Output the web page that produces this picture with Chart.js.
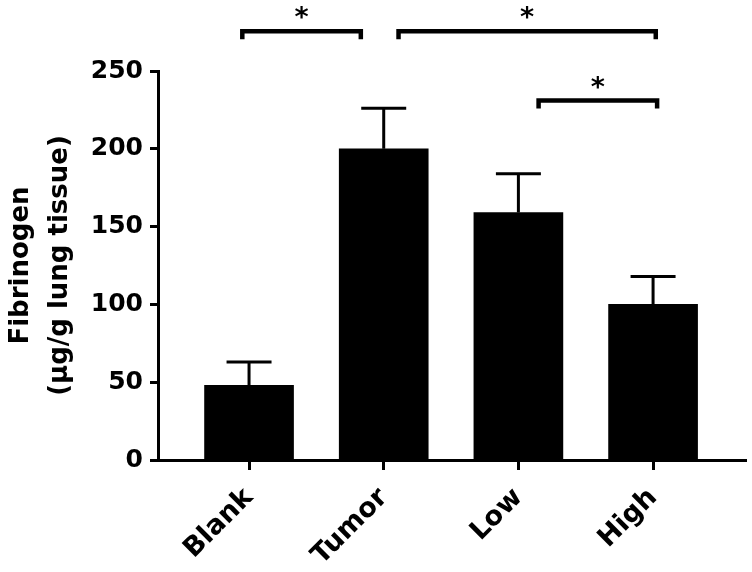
<!DOCTYPE html>
<html>
<head>
<meta charset="utf-8">
<script src="https://cdn.jsdelivr.net/npm/chart.js@4/dist/chart.umd.min.js"></script>
<style>
  html, body { margin: 0; padding: 0; background: #fff; }
</style>
</head>
<body>
<canvas id="fibChart" width="752" height="572"></canvas>
<script>
// values
const groups = ['Blank', 'Tumor', 'Low', 'High'];
const means = [48, 200, 159, 100];
const errUpper = [63, 226, 184, 118];
const yTicks = [0, 50, 100, 150, 200, 250];

// significance brackets: start / end on the category axis, height in data units
const bracketFrom = [-0.05, 1.11, 2.15];
const bracketTo = [0.83, 3.02, 3.03];
const bracketLevel = [275.5, 275.5, 231];
const bracketMark = ['*', '*', '*'];

const FONT = 'DejaVu Sans';

const errorBars = {
    id: 'errorBars',
    afterDatasetsDraw(chart) {
        const ctx = chart.ctx;
        const x = chart.scales.x, y = chart.scales.y;
        ctx.save();
        ctx.strokeStyle = '#000';
        ctx.lineWidth = 3;
        ctx.lineCap = 'butt';
        for (let i = 0; i < means.length; i++) {
            const px = x.getPixelForValue(i);
            const top = y.getPixelForValue(errUpper[i]);
            const base = y.getPixelForValue(means[i]);
            ctx.beginPath();
            ctx.moveTo(px, base);
            ctx.lineTo(px, top);
            ctx.moveTo(x.getPixelForValue(i - 0.167), top);
            ctx.lineTo(x.getPixelForValue(i + 0.167), top);
            ctx.stroke();
        }
        ctx.restore();
    }
};

const brackets = {
    id: 'brackets',
    afterDraw(chart) {
        const ctx = chart.ctx;
        const x = chart.scales.x, y = chart.scales.y;
        ctx.save();
        ctx.strokeStyle = '#000';
        ctx.fillStyle = '#000';
        ctx.lineWidth = 4.5;
        ctx.lineJoin = 'miter';
        for (let i = 0; i < bracketFrom.length; i++) {
            const x1 = x.getPixelForValue(bracketFrom[i]);
            const x2 = x.getPixelForValue(bracketTo[i]);
            const py = y.getPixelForValue(bracketLevel[i]);
            ctx.beginPath();
            ctx.moveTo(x1, py + 8);
            ctx.lineTo(x1, py);
            ctx.lineTo(x2, py);
            ctx.lineTo(x2, py + 8);
            ctx.stroke();
            ctx.font = 'bold 27px "' + FONT + '"';
            ctx.textAlign = 'center';
            ctx.textBaseline = 'middle';
            ctx.fillText(bracketMark[i], (x1 + x2) / 2, py - 12);
        }
        ctx.restore();
    }
};

new Chart(document.getElementById('fibChart'), {
    type: 'bar',
    data: {
        datasets: [{
            data: means.map((v, i) => ({ x: i, y: v })),
            backgroundColor: '#000',
            borderWidth: 0,
            barThickness: 89
        }]
    },
    options: {
        responsive: false,
        animation: false,
        layout: {
            padding: { top: 71, right: 6, left: 0, bottom: 0 }
        },
        plugins: {
            legend: { display: false },
            tooltip: { enabled: false }
        },
        scales: {
            x: {
                type: 'linear',
                min: -0.676,
                max: 3.69,
                offset: false,
                afterBuildTicks: function(scale) {
                    scale.ticks = groups.map((g, i) => ({ value: i }));
                },
                afterFit: function(scale) {
                    scale.height = 112;
                },
                grid: {
                    offset: false,
                    drawOnChartArea: false,
                    tickLength: 10,
                    tickWidth: 3,
                    tickColor: '#000'
                },
                border: { display: true, color: '#000', width: 3 },
                ticks: {
                    minRotation: 45,
                    maxRotation: 45,
                    padding: 12,
                    color: '#000',
                    font: { family: FONT, size: 27, weight: 'bold' },
                    callback: function(value) {
                        return groups[value];
                    }
                }
            },
            y: {
                min: 0,
                max: 250,
                afterBuildTicks: function(scale) {
                    scale.ticks = yTicks.map(v => ({ value: v }));
                },
                afterFit: function(scale) {
                    scale.width = 158;
                },
                grid: {
                    drawOnChartArea: false,
                    tickLength: 8,
                    tickWidth: 3,
                    tickColor: '#000'
                },
                border: { display: true, color: '#000', width: 3 },
                ticks: {
                    padding: 7,
                    color: '#000',
                    font: { family: FONT, size: 25, weight: 'bold' }
                },
                title: {
                    display: true,
                    text: ['Fibrinogen', '(µg/g lung tissue)'],
                    color: '#000',
                    padding: { top: 2, bottom: 0 },
                    font: { family: FONT, size: 26, weight: 'bold', lineHeight: 1.5 }
                }
            }
        }
    },
    plugins: [errorBars, brackets]
});
</script>
</body>
</html>
